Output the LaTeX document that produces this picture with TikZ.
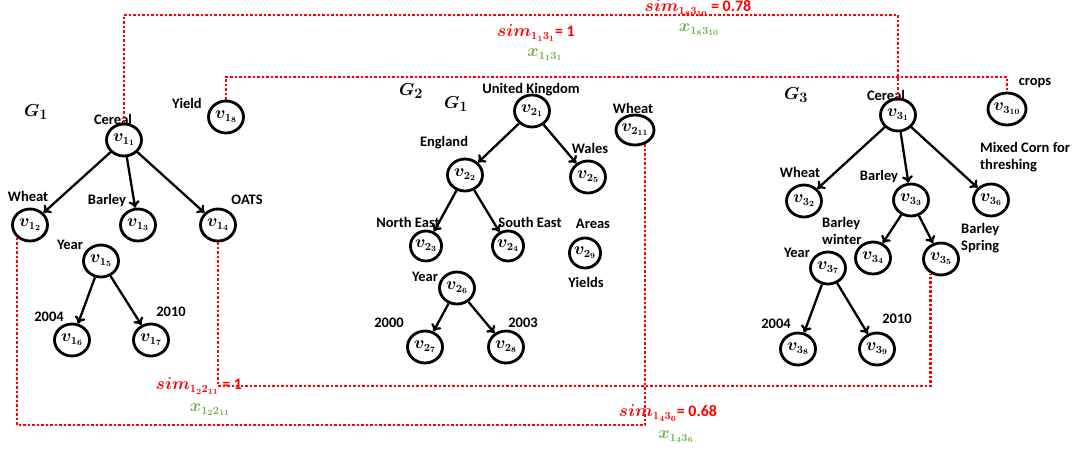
\documentclass[tikz,border=0pt]{standalone}
\usepackage{amsmath}
\usepackage{fontspec}
\setmainfont{Carlito}
\usetikzlibrary{shapes.geometric,arrows.meta}
\definecolor{simred}{RGB}{255,0,0}
\definecolor{xgreen}{RGB}{112,173,71}
\newcommand{\lfont}{\fontsize{14.5}{17}\selectfont\bfseries}
\newcommand{\vfont}{\fontsize{16}{18}\selectfont\boldmath}
\newcommand{\gfont}{\fontsize{19}{21}\selectfont\boldmath}
\newcommand{\sfont}{\fontsize{16}{18}\selectfont\boldmath\bfseries}
\tikzset{
  vn/.style={draw, ellipse, line width=2.8pt, minimum width=35pt, minimum height=32pt, inner sep=0pt, font=\vfont},
  vs/.style={vn, minimum width=30pt, minimum height=30pt},
  lbl/.style={inner sep=0pt, font=\lfont, align=left},
  glbl/.style={inner sep=0pt, font=\gfont},
  ar/.style={-{To[length=7pt,width=11pt]}, line width=2.3pt},
  simline/.style={simred, line width=2.6pt, dash pattern=on 2.5pt off 2pt},
  simlbl/.style={inner sep=0pt, font=\sfont, text=simred},
  xlbl/.style={inner sep=0pt, font=\sfont, text=xgreen},
}
\begin{document}
\begin{tikzpicture}[x=1pt,y=-1pt]
\useasboundingbox (0,0) rectangle (1078,450);
% ---------- G1 ----------
\node[glbl] (g1) at (36,112) {$G_1$};
\node[vn] (v11) at (124,140) {$v_{1_1}$};
\node[vn] (v18) at (226,117) {$v_{1_8}$};
\node[vn] (v12) at (30,225) {$v_{1_2}$};
\node[vn] (v13) at (138,225) {$v_{1_3}$};
\node[vn] (v14) at (218,225) {$v_{1_4}$};
\node[vn] (v15) at (101,261) {$v_{1_5}$};
\node[vn] (v16) at (72,340) {$v_{1_6}$};
\node[vn] (v17) at (151,340) {$v_{1_7}$};
\node[lbl] (l11) at (113,119) {Cereal};
\node[lbl] (l18) at (187,103) {Yield};
\node[lbl] (l12) at (28,196) {Wheat};
\node[lbl] (l13) at (107,201) {Barley};
\node[lbl] (l14) at (247,200) {OATS};
\node[lbl] (l15) at (70,245) {Year};
\node[lbl] (l16) at (49,317) {2004};
\node[lbl] (l17) at (171,312) {2010};
\draw[ar] (v11) -- (v12);
\draw[ar] (v11) -- (v13);
\draw[ar] (v11) -- (v14);
\draw[ar] (v15) -- (v16);
\draw[ar] (v15) -- (v17);
% ---------- G2 ----------
\node[glbl] (g2) at (411,91) {$G_2$};
\node[glbl] (g21) at (456,104) {$G_1$};
\node[vn] (v21) at (532,111) {$v_{2_1}$};
\node[vn] (v22) at (465,175) {$v_{2_2}$};
\node[vn] (v25) at (588,177) {$v_{2_5}$};
\node[vs] (v211) at (635,130) {$v_{2_{11}}$};
\node[vs] (v23) at (426,246) {$v_{2_3}$};
\node[vs] (v24) at (508,246) {$v_{2_4}$};
\node[vs] (v29) at (585,253) {$v_{2_9}$};
\node[vn] (v26) at (457,288) {$v_{2_6}$};
\node[vn] (v27) at (425,347) {$v_{2_7}$};
\node[vn] (v28) at (506,347) {$v_{2_8}$};
\node[lbl] (l21) at (531,90) {United Kingdom};
\node[lbl] (l22) at (444,143) {England};
\node[lbl] (l25) at (590,148) {Wales};
\node[lbl] (l211) at (633,108) {Wheat};
\node[lbl] (l23) at (408,222) {North East};
\node[lbl] (l24) at (530,222) {South East};
\node[lbl] (l29a) at (593,224) {Areas};
\node[lbl] (l29b) at (586,282) {Yields};
\node[lbl] (l26) at (425,277) {Year};
\node[lbl] (l27) at (389,323) {2000};
\node[lbl] (l28) at (523,323) {2003};
\draw[ar] (v21) -- (v22);
\draw[ar] (v21) -- (v25);
\draw[ar] (v22) -- (v23);
\draw[ar] (v22) -- (v24);
\draw[ar] (v26) -- (v27);
\draw[ar] (v26) -- (v28);
% ---------- G3 ----------
\node[glbl] (g3) at (796,95) {$G_3$};
\node[vn] (v31) at (898,115) {$v_{3_1}$};
\node[vn] (v310) at (1007,109) {$v_{3_{10}}$};
\node[vn] (v32) at (804,201) {$v_{3_2}$};
\node[vn] (v33) at (911,200) {$v_{3_3}$};
\node[vn] (v36) at (991,200) {$v_{3_6}$};
\node[vn] (v34) at (873,258) {$v_{3_4}$};
\node[vn] (v35) at (941,259) {$v_{3_5}$};
\node[vn] (v37) at (828,268) {$v_{3_7}$};
\node[vn] (v38) at (798,349) {$v_{3_8}$};
\node[vn] (v39) at (877,349) {$v_{3_9}$};
\node[lbl] (l31) at (886,95) {Cereal};
\node[lbl] (l310) at (1035,83) {crops};
\node[lbl, anchor=west] (l36) at (980,157) {Mixed Corn for\\threshing};
\node[lbl] (l32) at (800,172) {Wheat};
\node[lbl] (l33) at (879,177) {Barley};
\node[lbl, anchor=west] (l34) at (822,231) {Barley\\winter};
\node[lbl, anchor=west] (l35) at (961,238) {Barley\\Spring};
\node[lbl] (l37) at (797,253) {Year};
\node[lbl] (l38) at (776,324) {2004};
\node[lbl] (l39) at (897,319) {2010};
\draw[ar] (v31) -- (v32);
\draw[ar] (v31) -- (v33);
\draw[ar] (v31) -- (v36);
\draw[ar] (v33) -- (v34);
\draw[ar] (v33) -- (v35);
\draw[ar] (v37) -- (v38);
\draw[ar] (v37) -- (v39);
% ---------- similarity links ----------
\coordinate (t1) at (500,15);
\coordinate (t2) at (600,77);
\coordinate (b1) at (500,386);
\coordinate (b2) at (300,425);
\draw[simline] (v11.north) |- (t1) -| (v31.north);
\draw[simline] (v18.north) |- (t2) -| (v310.north);
\draw[simline] (v14.south) |- (b1) -| (v35.235);
\draw[simline] (v12.225) |- (b2) -| (v211.305);
\node[simlbl] (s1) at (536,33) {$sim_{1_13_1}$= 1};
\node[xlbl] (x1) at (545,55) {$x_{1_13_1}$};
\node[simlbl] (s2) at (698,8) {$sim_{1_83_{10}}$ = 0.78};
\node[xlbl] (x2) at (699,30) {$x_{1_83_{10}}$};
\node[simlbl] (s3) at (199,386) {$sim_{1_22_{11}}$ = 1};
\node[xlbl] (x3) at (210,410) {$x_{1_22_{11}}$};
\node[simlbl] (s4) at (668,413) {$sim_{1_43_6}$= 0.68};
\node[xlbl] (x4) at (676,437) {$x_{1_43_6}$};
\end{tikzpicture}
\end{document}
